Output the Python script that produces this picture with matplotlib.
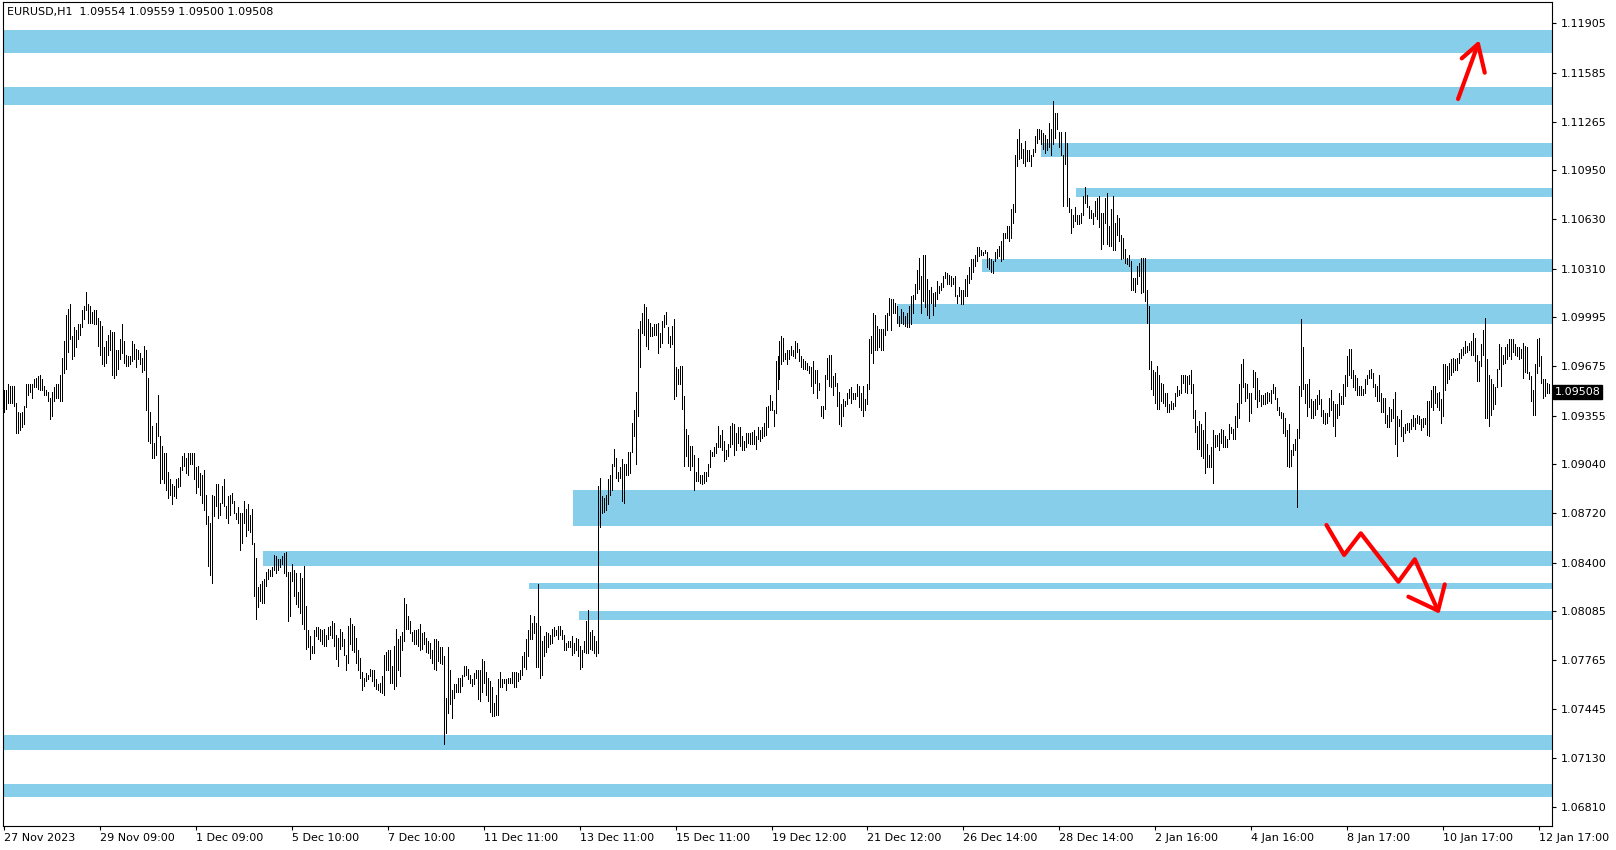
import matplotlib
matplotlib.use("Agg")
import matplotlib.pyplot as plt
from matplotlib.patches import Rectangle
from matplotlib.transforms import blended_transform_factory

plt.rcParams['font.family'] = ['DejaVu Sans']

symbol_text = "EURUSD,H1  1.09554 1.09559 1.09500 1.09508"
last_price = 1.09508

# hourly bars, high / low
bar_high = [
    1.0952, 1.0952, 1.0956, 1.0955, 1.0955, 1.0955, 1.0944, 1.0938, 1.0937, 1.0938,
    1.0942, 1.0956, 1.0956, 1.0956, 1.0956, 1.0959, 1.0960, 1.0961, 1.0962, 1.0959,
    1.0955, 1.0952, 1.0951, 1.0947, 1.0951, 1.0954, 1.0956, 1.0956, 1.0962, 1.0973,
    1.0984, 1.1001, 1.1005, 1.1008, 1.0987, 1.0993, 1.0991, 1.0995, 1.0995, 1.1004,
    1.1007, 1.1016, 1.1008, 1.1007, 1.1003, 1.1004, 1.1004, 1.0999, 1.0997, 1.0994,
    1.0980, 1.0984, 1.0988, 1.0991, 1.0990, 1.0990, 1.0978, 1.0978, 1.0985, 1.0995,
    1.0984, 1.0975, 1.0974, 1.0974, 1.0984, 1.0982, 1.0979, 1.0978, 1.0976, 1.0973,
    1.0981, 1.0978, 1.0960, 1.0938, 1.0929, 1.0918, 1.0931, 1.0949, 1.0922, 1.0916,
    1.0911, 1.0911, 1.0899, 1.0894, 1.0891, 1.0890, 1.0894, 1.0895, 1.0902, 1.0909,
    1.0911, 1.0908, 1.0911, 1.0911, 1.0911, 1.0911, 1.0902, 1.0903, 1.0898, 1.0897,
    1.0900, 1.0884, 1.0870, 1.0866, 1.0884, 1.0883, 1.0891, 1.0891, 1.0879, 1.0890,
    1.0894, 1.0877, 1.0883, 1.0884, 1.0885, 1.0880, 1.0872, 1.0876, 1.0872, 1.0872,
    1.0880, 1.0875, 1.0878, 1.0871, 1.0875, 1.0853, 1.0843, 1.0824, 1.0826, 1.0828,
    1.0829, 1.0834, 1.0836, 1.0835, 1.0837, 1.0845, 1.0844, 1.0842, 1.0842, 1.0844,
    1.0846, 1.0847, 1.0834, 1.0834, 1.0839, 1.0835, 1.0833, 1.0821, 1.0833, 1.0830,
    1.0838, 1.0812, 1.0796, 1.0792, 1.0786, 1.0796, 1.0798, 1.0798, 1.0797, 1.0796,
    1.0797, 1.0793, 1.0798, 1.0799, 1.0802, 1.0801, 1.0793, 1.0791, 1.0797, 1.0795,
    1.0790, 1.0780, 1.0799, 1.0804, 1.0800, 1.0799, 1.0791, 1.0783, 1.0778, 1.0769,
    1.0765, 1.0768, 1.0767, 1.0771, 1.0770, 1.0770, 1.0764, 1.0761, 1.0762, 1.0766,
    1.0780, 1.0782, 1.0783, 1.0783, 1.0773, 1.0786, 1.0797, 1.0790, 1.0792, 1.0795,
    1.0817, 1.0813, 1.0805, 1.0802, 1.0795, 1.0796, 1.0796, 1.0797, 1.0800, 1.0794,
    1.0795, 1.0791, 1.0789, 1.0788, 1.0783, 1.0790, 1.0790, 1.0789, 1.0785, 1.0785,
    1.0779, 1.0752, 1.0785, 1.0770, 1.0757, 1.0761, 1.0761, 1.0765, 1.0765, 1.0767,
    1.0773, 1.0773, 1.0771, 1.0767, 1.0764, 1.0768, 1.0770, 1.0770, 1.0770, 1.0777,
    1.0776, 1.0769, 1.0765, 1.0763, 1.0759, 1.0749, 1.0754, 1.0764, 1.0769, 1.0764,
    1.0764, 1.0764, 1.0765, 1.0765, 1.0769, 1.0769, 1.0769, 1.0768, 1.0770, 1.0779,
    1.0782, 1.0790, 1.0796, 1.0806, 1.0801, 1.0805, 1.0801, 1.0826, 1.0799, 1.0789,
    1.0792, 1.0795, 1.0794, 1.0793, 1.0797, 1.0798, 1.0796, 1.0799, 1.0799, 1.0796,
    1.0793, 1.0788, 1.0789, 1.0789, 1.0792, 1.0788, 1.0791, 1.0790, 1.0786, 1.0783,
    1.0789, 1.0802, 1.0809, 1.0795, 1.0796, 1.0792, 1.0789, 1.0890, 1.0895, 1.0883,
    1.0882, 1.0884, 1.0894, 1.0897, 1.0904, 1.0914, 1.0908, 1.0899, 1.0902, 1.0907,
    1.0904, 1.0904, 1.0912, 1.0912, 1.0931, 1.0939, 1.0951, 1.0992, 1.0997, 1.1002,
    1.1008, 1.1006, 1.0998, 1.0996, 1.0993, 1.0995, 1.0995, 1.0996, 1.0989, 1.0997,
    1.1001, 1.1003, 1.0993, 1.0987, 1.0994, 1.0998, 1.0967, 1.0966, 1.0968, 1.0968,
    1.0948, 1.0927, 1.0923, 1.0916, 1.0916, 1.0910, 1.0899, 1.0908, 1.0897, 1.0897,
    1.0899, 1.0899, 1.0904, 1.0913, 1.0912, 1.0915, 1.0918, 1.0929, 1.0923, 1.0926,
    1.0919, 1.0913, 1.0917, 1.0929, 1.0931, 1.0930, 1.0924, 1.0928, 1.0928, 1.0922,
    1.0919, 1.0924, 1.0924, 1.0924, 1.0925, 1.0926, 1.0922, 1.0928, 1.0926, 1.0928,
    1.0931, 1.0941, 1.0942, 1.0949, 1.0945, 1.0939, 1.0971, 1.0974, 1.0984, 1.0987,
    1.0986, 1.0976, 1.0978, 1.0978, 1.0981, 1.0978, 1.0984, 1.0983, 1.0979, 1.0974,
    1.0972, 1.0971, 1.0970, 1.0968, 1.0967, 1.0971, 1.0965, 1.0965, 1.0957, 1.0942,
    1.0942, 1.0962, 1.0973, 1.0975, 1.0975, 1.0961, 1.0963, 1.0957, 1.0951, 1.0943,
    1.0946, 1.0945, 1.0950, 1.0953, 1.0954, 1.0950, 1.0950, 1.0956, 1.0955, 1.0950,
    1.0955, 1.0946, 1.0956, 1.0985, 1.0987, 1.1002, 1.1001, 1.0994, 1.0992, 1.0992,
    1.0992, 1.1001, 1.1002, 1.1012, 1.1011, 1.1011, 1.1009, 1.1007, 1.1000, 1.1005,
    1.1003, 1.1000, 1.1002, 1.1007, 1.1013, 1.1014, 1.1021, 1.1030, 1.1038, 1.1026,
    1.1040, 1.1040, 1.1024, 1.1017, 1.1019, 1.1015, 1.1016, 1.1023, 1.1020, 1.1022,
    1.1026, 1.1029, 1.1028, 1.1027, 1.1026, 1.1025, 1.1026, 1.1014, 1.1019, 1.1017,
    1.1017, 1.1024, 1.1027, 1.1032, 1.1037, 1.1037, 1.1040, 1.1045, 1.1045, 1.1043,
    1.1042, 1.1043, 1.1042, 1.1038, 1.1037, 1.1036, 1.1042, 1.1044, 1.1046, 1.1049,
    1.1054, 1.1054, 1.1059, 1.1059, 1.1070, 1.1073, 1.1105, 1.1115, 1.1122, 1.1113,
    1.1109, 1.1114, 1.1108, 1.1108, 1.1105, 1.1109, 1.1117, 1.1122, 1.1122, 1.1121,
    1.1119, 1.1118, 1.1115, 1.1126, 1.1122, 1.1140, 1.1132, 1.1132, 1.1120, 1.1120,
    1.1105, 1.1120, 1.1113, 1.1077, 1.1070, 1.1066, 1.1071, 1.1066, 1.1066, 1.1067,
    1.1078, 1.1084, 1.1079, 1.1072, 1.1069, 1.1067, 1.1075, 1.1077, 1.1078, 1.1067,
    1.1067, 1.1077, 1.1080, 1.1059, 1.1070, 1.1078, 1.1061, 1.1066, 1.1064, 1.1053,
    1.1051, 1.1044, 1.1038, 1.1040, 1.1036, 1.1025, 1.1025, 1.1033, 1.1035, 1.1038,
    1.1038, 1.1038, 1.1017, 1.1007, 1.0971, 1.0965, 1.0964, 1.0968, 1.0962, 1.0957,
    1.0956, 1.0950, 1.0950, 1.0943, 1.0945, 1.0944, 1.0950, 1.0955, 1.0952, 1.0962,
    1.0962, 1.0962, 1.0961, 1.0962, 1.0965, 1.0956, 1.0939, 1.0929, 1.0932, 1.0930,
    1.0926, 1.0938, 1.0917, 1.0910, 1.0915, 1.0926, 1.0923, 1.0923, 1.0924, 1.0927,
    1.0926, 1.0922, 1.0920, 1.0930, 1.0928, 1.0927, 1.0935, 1.0944, 1.0956, 1.0969,
    1.0972, 1.0957, 1.0956, 1.0950, 1.0950, 1.0965, 1.0964, 1.0960, 1.0952, 1.0949,
    1.0949, 1.0950, 1.0951, 1.0950, 1.0952, 1.0956, 1.0954, 1.0947, 1.0941, 1.0938,
    1.0937, 1.0934, 1.0926, 1.0930, 1.0913, 1.0917, 1.0920, 1.0927, 1.0955, 1.0998,
    1.0980, 1.0956, 1.0956, 1.0959, 1.0946, 1.0945, 1.0946, 1.0949, 1.0952, 1.0946,
    1.0939, 1.0937, 1.0937, 1.0947, 1.0952, 1.0945, 1.0943, 1.0943, 1.0950, 1.0948,
    1.0956, 1.0962, 1.0974, 1.0979, 1.0979, 1.0965, 1.0962, 1.0960, 1.0955, 1.0955,
    1.0953, 1.0959, 1.0962, 1.0965, 1.0966, 1.0963, 1.0956, 1.0955, 1.0962, 1.0950,
    1.0947, 1.0947, 1.0936, 1.0941, 1.0940, 1.0946, 1.0951, 1.0935, 1.0933, 1.0939,
    1.0928, 1.0930, 1.0931, 1.0931, 1.0933, 1.0936, 1.0934, 1.0936, 1.0935, 1.0933,
    1.0934, 1.0934, 1.0945, 1.0945, 1.0952, 1.0955, 1.0955, 1.0950, 1.0951, 1.0946,
    1.0969, 1.0969, 1.0968, 1.0970, 1.0972, 1.0973, 1.0972, 1.0973, 1.0976, 1.0979,
    1.0980, 1.0984, 1.0981, 1.0983, 1.0984, 1.0989, 1.0986, 1.0975, 1.0971, 1.0982,
    1.0991, 1.0999, 1.0972, 1.0962, 1.0959, 1.0956, 1.0954, 1.0966, 1.0982, 1.0980,
    1.0975, 1.0980, 1.0982, 1.0985, 1.0985, 1.0985, 1.0982, 1.0980, 1.0980, 1.0979,
    1.0983, 1.0981, 1.0980, 1.0964, 1.0961, 1.0952, 1.0969, 1.0985, 1.0986, 1.0974,
    1.0959, 1.0959, 1.0957, 1.09559,
]
bar_low = [
    1.0938, 1.0940, 1.0944, 1.0944, 1.0944, 1.0942, 1.0924, 1.0924, 1.0926, 1.0928,
    1.0930, 1.0941, 1.0949, 1.0951, 1.0947, 1.0954, 1.0954, 1.0953, 1.0952, 1.0952,
    1.0949, 1.0949, 1.0945, 1.0933, 1.0935, 1.0945, 1.0947, 1.0947, 1.0945, 1.0945,
    1.0963, 1.0966, 1.0977, 1.0985, 1.0972, 1.0974, 1.0980, 1.0985, 1.0988, 1.0993,
    1.0998, 1.1004, 1.0996, 1.0996, 1.0996, 1.0995, 1.0995, 1.0981, 1.0975, 1.0969,
    1.0968, 1.0970, 1.0975, 1.0978, 1.0962, 1.0960, 1.0962, 1.0966, 1.0972, 1.0976,
    1.0970, 1.0968, 1.0968, 1.0969, 1.0971, 1.0972, 1.0967, 1.0972, 1.0969, 1.0964,
    1.0965, 1.0939, 1.0919, 1.0918, 1.0908, 1.0908, 1.0910, 1.0922, 1.0892, 1.0894,
    1.0892, 1.0887, 1.0882, 1.0884, 1.0878, 1.0883, 1.0882, 1.0889, 1.0890, 1.0900,
    1.0903, 1.0898, 1.0897, 1.0904, 1.0904, 1.0894, 1.0885, 1.0889, 1.0884, 1.0879,
    1.0874, 1.0865, 1.0838, 1.0832, 1.0827, 1.0870, 1.0877, 1.0869, 1.0871, 1.0879,
    1.0877, 1.0869, 1.0866, 1.0871, 1.0879, 1.0872, 1.0868, 1.0866, 1.0848, 1.0853,
    1.0866, 1.0857, 1.0861, 1.0860, 1.0852, 1.0818, 1.0803, 1.0811, 1.0815, 1.0814,
    1.0814, 1.0825, 1.0829, 1.0831, 1.0831, 1.0835, 1.0833, 1.0835, 1.0837, 1.0839,
    1.0833, 1.0831, 1.0802, 1.0805, 1.0828, 1.0818, 1.0813, 1.0811, 1.0807, 1.0800,
    1.0797, 1.0784, 1.0785, 1.0777, 1.0781, 1.0781, 1.0792, 1.0790, 1.0789, 1.0787,
    1.0786, 1.0786, 1.0790, 1.0793, 1.0791, 1.0786, 1.0777, 1.0773, 1.0784, 1.0786,
    1.0780, 1.0770, 1.0775, 1.0787, 1.0783, 1.0782, 1.0775, 1.0770, 1.0765, 1.0757,
    1.0760, 1.0763, 1.0764, 1.0766, 1.0763, 1.0760, 1.0758, 1.0757, 1.0756, 1.0755,
    1.0754, 1.0770, 1.0770, 1.0762, 1.0762, 1.0758, 1.0760, 1.0770, 1.0766, 1.0783,
    1.0789, 1.0797, 1.0797, 1.0794, 1.0789, 1.0787, 1.0787, 1.0786, 1.0783, 1.0784,
    1.0787, 1.0782, 1.0781, 1.0778, 1.0775, 1.0771, 1.0770, 1.0776, 1.0775, 1.0774,
    1.0722, 1.0729, 1.0742, 1.0748, 1.0739, 1.0752, 1.0756, 1.0756, 1.0756, 1.0760,
    1.0766, 1.0767, 1.0764, 1.0762, 1.0760, 1.0761, 1.0765, 1.0751, 1.0750, 1.0756,
    1.0762, 1.0754, 1.0750, 1.0743, 1.0740, 1.0740, 1.0741, 1.0741, 1.0759, 1.0759,
    1.0762, 1.0757, 1.0762, 1.0762, 1.0762, 1.0759, 1.0759, 1.0763, 1.0764, 1.0767,
    1.0772, 1.0771, 1.0779, 1.0790, 1.0790, 1.0794, 1.0772, 1.0772, 1.0765, 1.0767,
    1.0779, 1.0782, 1.0785, 1.0787, 1.0788, 1.0792, 1.0793, 1.0790, 1.0793, 1.0790,
    1.0783, 1.0783, 1.0785, 1.0785, 1.0780, 1.0781, 1.0783, 1.0779, 1.0771, 1.0772,
    1.0782, 1.0781, 1.0781, 1.0784, 1.0783, 1.0781, 1.0779, 1.0781, 1.0863, 1.0872,
    1.0873, 1.0874, 1.0878, 1.0884, 1.0887, 1.0903, 1.0895, 1.0893, 1.0895, 1.0880,
    1.0879, 1.0897, 1.0897, 1.0898, 1.0912, 1.0922, 1.0904, 1.0935, 1.0967, 1.0989,
    1.0988, 1.0981, 1.0979, 1.0987, 1.0987, 1.0988, 1.0988, 1.0976, 1.0980, 1.0983,
    1.0993, 1.0995, 1.0983, 1.0980, 1.0982, 1.0946, 1.0948, 1.0956, 1.0956, 1.0940,
    1.0903, 1.0909, 1.0903, 1.0900, 1.0903, 1.0887, 1.0893, 1.0893, 1.0892, 1.0891,
    1.0892, 1.0893, 1.0896, 1.0902, 1.0909, 1.0909, 1.0911, 1.0915, 1.0915, 1.0913,
    1.0906, 1.0907, 1.0909, 1.0915, 1.0917, 1.0910, 1.0913, 1.0918, 1.0916, 1.0913,
    1.0913, 1.0915, 1.0918, 1.0917, 1.0917, 1.0917, 1.0914, 1.0920, 1.0919, 1.0921,
    1.0922, 1.0923, 1.0928, 1.0939, 1.0939, 1.0929, 1.0937, 1.0953, 1.0959, 1.0969,
    1.0971, 1.0972, 1.0969, 1.0972, 1.0975, 1.0974, 1.0973, 1.0977, 1.0971, 1.0967,
    1.0966, 1.0966, 1.0965, 1.0963, 1.0955, 1.0950, 1.0957, 1.0947, 1.0952, 1.0935,
    1.0934, 1.0940, 1.0959, 1.0955, 1.0954, 1.0949, 1.0955, 1.0942, 1.0930, 1.0929,
    1.0935, 1.0942, 1.0943, 1.0947, 1.0944, 1.0946, 1.0946, 1.0948, 1.0941, 1.0939,
    1.0935, 1.0939, 1.0943, 1.0953, 1.0976, 1.0970, 1.0978, 1.0978, 1.0980, 1.0978,
    1.0978, 1.0988, 1.0991, 1.1001, 1.0991, 1.1002, 1.1002, 1.0996, 1.0994, 1.0996,
    1.0995, 1.0994, 1.0993, 1.0993, 1.0995, 1.1002, 1.1011, 1.1015, 1.1018, 1.1002,
    1.1010, 1.1006, 1.1001, 1.0999, 1.1009, 1.1001, 1.1007, 1.1011, 1.1015, 1.1017,
    1.1019, 1.1025, 1.1021, 1.1021, 1.1020, 1.1021, 1.1013, 1.1009, 1.1013, 1.1008,
    1.1008, 1.1013, 1.1013, 1.1022, 1.1024, 1.1029, 1.1033, 1.1036, 1.1039, 1.1040,
    1.1040, 1.1041, 1.1032, 1.1031, 1.1029, 1.1028, 1.1036, 1.1038, 1.1039, 1.1036,
    1.1037, 1.1051, 1.1051, 1.1049, 1.1051, 1.1061, 1.1068, 1.1098, 1.1102, 1.1103,
    1.1100, 1.1098, 1.1101, 1.1101, 1.1098, 1.1104, 1.1107, 1.1113, 1.1115, 1.1112,
    1.1109, 1.1106, 1.1108, 1.1110, 1.1105, 1.1112, 1.1116, 1.1122, 1.1110, 1.1105,
    1.1072, 1.1099, 1.1072, 1.1068, 1.1054, 1.1058, 1.1062, 1.1060, 1.1060, 1.1061,
    1.1066, 1.1074, 1.1071, 1.1064, 1.1064, 1.1060, 1.1065, 1.1063, 1.1058, 1.1044,
    1.1047, 1.1061, 1.1047, 1.1046, 1.1046, 1.1043, 1.1043, 1.1053, 1.1049, 1.1037,
    1.1038, 1.1035, 1.1034, 1.1033, 1.1017, 1.1017, 1.1016, 1.1021, 1.1026, 1.1015,
    1.1016, 1.1010, 1.0996, 1.0966, 1.0953, 1.0949, 1.0944, 1.0940, 1.0940, 1.0945,
    1.0944, 1.0942, 1.0938, 1.0938, 1.0940, 1.0940, 1.0942, 1.0948, 1.0949, 1.0950,
    1.0957, 1.0951, 1.0950, 1.0956, 1.0950, 1.0934, 1.0925, 1.0914, 1.0914, 1.0909,
    1.0908, 1.0898, 1.0902, 1.0902, 1.0902, 1.0892, 1.0915, 1.0916, 1.0913, 1.0918,
    1.0915, 1.0915, 1.0915, 1.0920, 1.0924, 1.0920, 1.0920, 1.0928, 1.0934, 1.0944,
    1.0954, 1.0945, 1.0947, 1.0932, 1.0937, 1.0954, 1.0946, 1.0941, 1.0945, 1.0942,
    1.0943, 1.0943, 1.0944, 1.0945, 1.0944, 1.0950, 1.0946, 1.0939, 1.0936, 1.0934,
    1.0924, 1.0922, 1.0903, 1.0902, 1.0903, 1.0910, 1.0913, 1.0876, 1.0921, 1.0948,
    1.0953, 1.0944, 1.0935, 1.0941, 1.0934, 1.0934, 1.0936, 1.0940, 1.0943, 1.0935,
    1.0931, 1.0930, 1.0931, 1.0935, 1.0939, 1.0929, 1.0922, 1.0934, 1.0936, 1.0943,
    1.0943, 1.0948, 1.0955, 1.0962, 1.0960, 1.0954, 1.0952, 1.0949, 1.0949, 1.0949,
    1.0949, 1.0950, 1.0956, 1.0960, 1.0960, 1.0954, 1.0948, 1.0945, 1.0945, 1.0938,
    1.0938, 1.0931, 1.0928, 1.0928, 1.0932, 1.0934, 1.0917, 1.0909, 1.0929, 1.0922,
    1.0919, 1.0924, 1.0926, 1.0925, 1.0927, 1.0929, 1.0927, 1.0931, 1.0930, 1.0926,
    1.0928, 1.0930, 1.0923, 1.0922, 1.0941, 1.0939, 1.0944, 1.0941, 1.0939, 1.0931,
    1.0935, 1.0952, 1.0957, 1.0959, 1.0962, 1.0964, 1.0965, 1.0965, 1.0970, 1.0973,
    1.0975, 1.0976, 1.0977, 1.0978, 1.0975, 1.0975, 1.0971, 1.0958, 1.0958, 1.0968,
    1.0975, 1.0934, 1.0934, 1.0929, 1.0936, 1.0940, 1.0943, 1.0954, 1.0966, 1.0955,
    1.0969, 1.0970, 1.0972, 1.0974, 1.0972, 1.0977, 1.0975, 1.0974, 1.0972, 1.0973,
    1.0960, 1.0964, 1.0963, 1.0959, 1.0945, 1.0936, 1.0936, 1.0963, 1.0968, 1.0957,
    1.0947, 1.0948, 1.0950, 1.09500,
]

price_ticks = [1.11905, 1.11585, 1.11265, 1.10950, 1.10630, 1.10310, 1.09995,
               1.09675, 1.09355, 1.09040, 1.08720, 1.08400, 1.08085, 1.07765,
               1.07445, 1.07130, 1.06810]
date_labels = ["27 Nov 2023", "29 Nov 09:00", "1 Dec 09:00", "5 Dec 10:00",
               "7 Dec 10:00", "11 Dec 11:00", "13 Dec 11:00", "15 Dec 11:00",
               "19 Dec 12:00", "21 Dec 12:00", "26 Dec 14:00", "28 Dec 14:00",
               "2 Jan 16:00", "4 Jan 16:00", "8 Jan 17:00", "10 Jan 17:00",
               "12 Jan 17:00"]
bars_per_label = 48

# supply / demand zones: first bar (None = whole chart), low, high
zone_start = [None, None, 519, 536.5, 489.5, 447, 284.5, 129.5, 262.5, 287.5, None, None]
zone_low = [1.11714, 1.11374, 1.11038, 1.10778, 1.10290, 1.09950,
            1.08638, 1.08378, 1.08228, 1.08027, 1.07182, 1.06876]
zone_high = [1.11861, 1.11489, 1.11129, 1.10832, 1.10373, 1.10080,
             1.08872, 1.08475, 1.08267, 1.08085, 1.07279, 1.06960]

# hand drawn arrows (bar index, price)
up_x = [727.5, 737.5]
up_y = [1.11413, 1.11770]
up_head_x = [729.35, 737.5, 740.85]
up_head_y = [1.11677, 1.11770, 1.11584]
zig_x = [661.65, 670.5, 678.85, 697.65, 705.85, 717.5]
zig_y = [1.08644, 1.08449, 1.08590, 1.08275, 1.08421, 1.08087]
zig_head_x = [702.65, 717.5, 720.85]
zig_head_y = [1.08178, 1.08087, 1.08258]

W, H = 1616, 850
fig = plt.figure(figsize=(W / 100, H / 100), dpi=100)
ax = fig.add_axes([3 / W, 24 / H, 1549 / W, 824 / H])
ax.set_facecolor('white')

n = len(bar_high)
xs = list(range(n))
x_left, x_right = -0.5, 774.5
ax.set_xlim(x_left, x_right)
ax.set_ylim(1.066874, 1.120435)

for s, lo, hi in zip(zone_start, zone_low, zone_high):
    x0 = x_left if s is None else s
    ax.add_patch(Rectangle((x0, lo), x_right - x0 + 5, hi - lo,
                           facecolor='#87CEEB', edgecolor='none', zorder=1))

# 1 px wide bar lines
ax.vlines(xs, bar_low, bar_high, colors='black', linewidth=0.5,
          antialiased=False, zorder=3)

red = '#FF0000'
for px, py in [(up_x, up_y), (up_head_x, up_head_y), (zig_x, zig_y), (zig_head_x, zig_head_y)]:
    ax.plot(px, py, color=red, lw=3, solid_capstyle='round',
            solid_joinstyle='round', zorder=4)

# axes and ticks
for sp in ax.spines.values():
    sp.set_color('black')
    sp.set_linewidth(0.8)
ax.yaxis.tick_right()
ax.set_yticks(price_ticks, [f"{p:.5f}" for p in price_ticks])
ax.set_xticks([i * bars_per_label for i in range(len(date_labels))], date_labels)
ax.tick_params(axis='y', direction='out', length=3, width=0.8, pad=3,
               labelsize=8, colors='black')
ax.tick_params(axis='x', direction='out', length=3, width=0.8, pad=2,
               labelsize=8, colors='black')
for lab in ax.get_xticklabels():
    lab.set_horizontalalignment('left')

trans = blended_transform_factory(ax.transAxes, ax.transData)
ax.text(1.0018, last_price, f"{last_price:.5f}", transform=trans, fontsize=8,
        color='white', va='center', ha='left', zorder=6,
        bbox=dict(boxstyle='square,pad=0.15', facecolor='black', edgecolor='black'))

fig.text(7 / W, 1 - 12.5 / H, symbol_text, fontsize=8, color='black',
         ha='left', va='center')

fig.savefig("out.png", dpi=100, facecolor='white')
